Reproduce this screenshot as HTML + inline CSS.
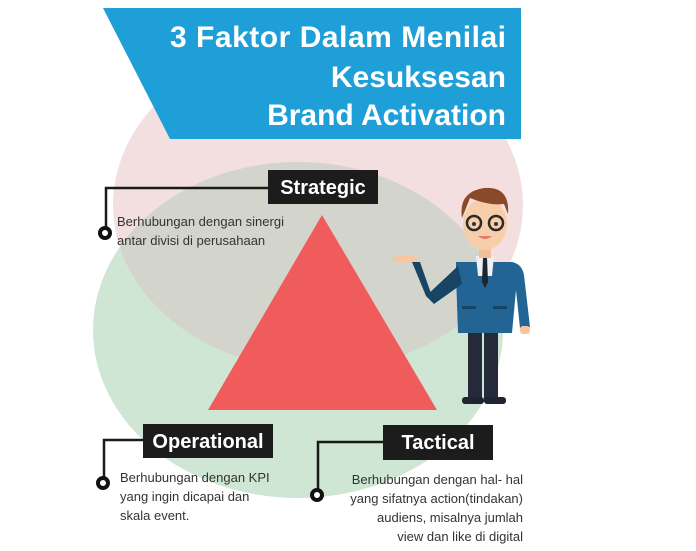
<!DOCTYPE html>
<html><head><style>
body{margin:0;width:696px;height:546px;overflow:hidden;background:#fff;font-family:"Liberation Sans",sans-serif}
</style></head><body>
<svg width="696" height="546" viewBox="0 0 696 546" xmlns="http://www.w3.org/2000/svg">
<defs>
<clipPath id="pk"><ellipse cx="318" cy="205" rx="205" ry="165"/></clipPath>
</defs>
<ellipse cx="318" cy="205" rx="205" ry="165" fill="#f3dfe0"/>
<ellipse cx="298" cy="330" rx="205" ry="168" fill="#cfe6d5"/>
<ellipse cx="298" cy="330" rx="205" ry="168" fill="#d3d5cc" clip-path="url(#pk)"/>
<polygon points="103,8 521,8 521,139 170,139" fill="#1f9fd7"/>
<g fill="#fff" font-weight="bold" font-size="30" text-anchor="end" font-family="Liberation Sans">
<text x="506" y="47" textLength="336">3 Faktor Dalam Menilai</text>
<text x="506" y="87">Kesuksesan</text>
<text x="506" y="125">Brand Activation</text>
</g>
<polygon points="322,215 208,410 437,410" fill="#f05b5b"/>
<g stroke="#1a1a1a" stroke-width="2.5" fill="none">
<polyline points="268,188 106,188 106,229"/>
<polyline points="143,440 104,440 104,478"/>
<polyline points="383,442 318,442 318,490"/>
</g>
<g stroke="#111" stroke-width="4" fill="#fff">
<circle cx="105" cy="233" r="5"/><circle cx="103" cy="483" r="5"/><circle cx="317" cy="495" r="5"/>
</g>
<rect x="268" y="170" width="110" height="34" fill="#1c1c1c"/>
<rect x="143" y="424" width="130" height="34" fill="#1c1c1c"/>
<rect x="383" y="425" width="110" height="35" fill="#1c1c1c"/>
<g fill="#fff" font-weight="bold" font-size="20" text-anchor="middle">
<text x="323" y="194">Strategic</text>
<text x="208" y="448">Operational</text>
<text x="438" y="449">Tactical</text>
</g>
<g fill="#333" font-size="13">
<text x="117" y="226">Berhubungan dengan sinergi</text>
<text x="117" y="245">antar divisi di perusahaan</text>
<text x="120" y="482">Berhubungan dengan KPI</text>
<text x="120" y="501">yang ingin dicapai dan</text>
<text x="120" y="520">skala event.</text>
</g>
<g fill="#333" font-size="13" text-anchor="end">
<text x="523" y="484">Berhubungan dengan hal- hal</text>
<text x="523" y="503">yang sifatnya action(tindakan)</text>
<text x="523" y="522">audiens, misalnya jumlah</text>
<text x="523" y="541">view dan like di digital</text>
</g>
<!-- person -->
<g>
<rect x="468" y="330" width="14" height="70" fill="#252a3a"/>
<rect x="484" y="330" width="14" height="70" fill="#252a3a"/>
<rect x="462" y="397" width="22" height="7" rx="3" fill="#1f2433"/>
<rect x="484" y="397" width="22" height="7" rx="3" fill="#1f2433"/>
<path d="M456 262 L512 262 Q522 264 524 275 L530 327 L520 328 L516 290 L512 333 L458 333 L456 275 Z" fill="#226595"/>
<polygon points="458,266 462,284 434,304 426,296" fill="#174563"/>
<polygon points="426,296 434,302 420,262 412,262" fill="#174563"/>
<ellipse cx="405" cy="259" rx="13" ry="3.5" fill="#f5c6a0"/>
<rect x="520" y="326" width="10" height="8" rx="3" fill="#f5c6a0"/>
<polygon points="476,256 494,256 492,276 478,276" fill="#eef0f2"/>
<polygon points="483,258 487,258 488,282 485,288 482,282" fill="#1e2430"/>
<rect x="479" y="246" width="12" height="12" fill="#f0c09a"/>
<ellipse cx="485" cy="224" rx="22" ry="26" fill="#f6ceaa"/>
<path d="M462 218 Q458 192 484 188 Q510 186 508 214 L504 204 Q490 206 470 198 Z" fill="#8a4a2a"/>
<circle cx="474" cy="223" r="7" fill="none" stroke="#2a2a2a" stroke-width="2.5"/>
<circle cx="496" cy="223" r="7" fill="none" stroke="#2a2a2a" stroke-width="2.5"/>
<circle cx="474" cy="224" r="2" fill="#333"/><circle cx="496" cy="224" r="2" fill="#333"/>
<path d="M478 236 Q485 242 492 236 Z" fill="#e87b6a"/>
<rect x="462" y="306" width="14" height="3" fill="#174563"/>
<rect x="493" y="306" width="14" height="3" fill="#174563"/>
</g>
</svg>
</body></html>
